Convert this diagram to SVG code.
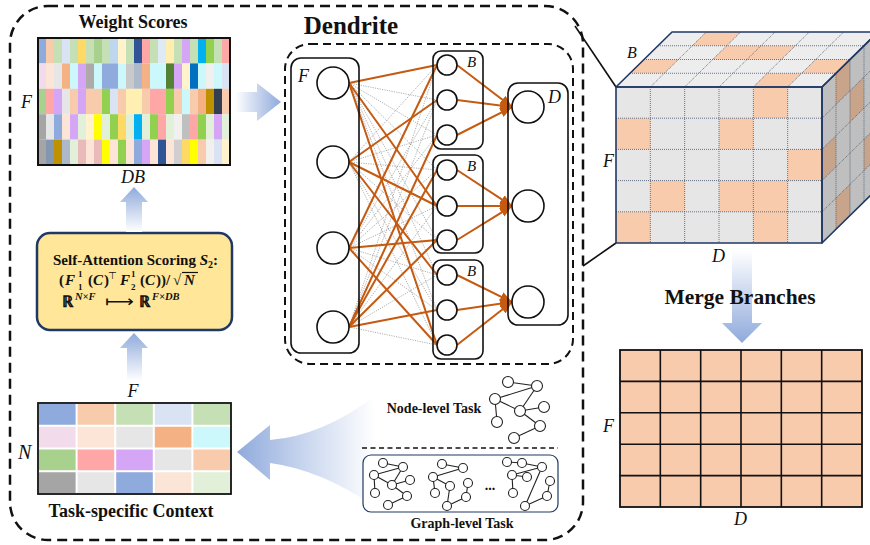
<svg xmlns="http://www.w3.org/2000/svg" width="870" height="545" viewBox="0 0 870 545">
<defs>
  <style>
    .t{font-family:"Liberation Serif","Times New Roman",serif;font-weight:bold;fill:#111}
    .v{font-family:"Liberation Serif","Times New Roman",serif;font-style:italic;fill:#111}
    .m{font-family:"Liberation Serif","DejaVu Serif",serif;font-weight:bold;fill:#111}
    .mi{font-style:italic}
    .gray{stroke:#8c8c8c;stroke-width:0.7;stroke-dasharray:1.2 1.2;fill:none}
    .or{stroke:#c55a11;stroke-width:2;fill:none}
    .ora{stroke:#c55a11;stroke-width:2;fill:none;marker-end:url(#ah)}
    .nd{fill:#fff;stroke:#111;stroke-width:1.6}
    .box{fill:none;stroke:#111;stroke-width:1.6}
    .gn{fill:#fff;stroke:#222;stroke-width:1.1}
    .ge{stroke:#222;stroke-width:1.1}
    .dot{stroke:#44546a;stroke-width:0.8;stroke-dasharray:1 1;fill:none}
  </style>
  <marker id="ah" viewBox="0 0 12 10" refX="12" refY="5" markerWidth="12" markerHeight="10" markerUnits="userSpaceOnUse" orient="auto">
    <path d="M0,0 L12,5 L0,10 Z" fill="#c55a11"/>
  </marker>
  <linearGradient id="gRight" x1="0" y1="0" x2="1" y2="0">
    <stop offset="0" stop-color="#fff"/><stop offset="1" stop-color="#8faadc"/>
  </linearGradient>
  <linearGradient id="gUp" x1="0" y1="1" x2="0" y2="0">
    <stop offset="0" stop-color="#fff"/><stop offset="1" stop-color="#8faadc"/>
  </linearGradient>
  <linearGradient id="gDown" x1="0" y1="0" x2="0" y2="1">
    <stop offset="0" stop-color="#fff"/><stop offset="1" stop-color="#8faadc"/>
  </linearGradient>
  <linearGradient id="gLeft" x1="1" y1="0" x2="0" y2="0">
    <stop offset="0" stop-color="#fff" stop-opacity="0.9"/><stop offset="1" stop-color="#8faadc"/>
  </linearGradient>
</defs>

<rect width="870" height="545" fill="#fff"/>

<!-- outer dashed frame -->
<rect x="10" y="6" width="573" height="534" rx="38" fill="none" stroke="#111" stroke-width="2.5" stroke-dasharray="10 6"/>

<!-- zoom lines from frame to cube -->
<g id="zoom-lines" stroke="#111" stroke-width="1.6">
  <line x1="575" y1="26" x2="616" y2="87"/>
  <line x1="616" y1="243" x2="583" y2="266"/>
</g>

<!-- Weight Scores heatmap -->
<g id="weight-scores">
  <text class="t" x="133" y="28" font-size="18" text-anchor="middle">Weight Scores</text>
  <g>
    <!-- row 1 -->
    <rect x="38" y="38" width="8.1" height="25.5" fill="#8faadc"/><rect x="46" y="38" width="8.1" height="25.5" fill="#f8cbad"/><rect x="54" y="38" width="8.1" height="25.5" fill="#c5e0b4"/><rect x="62" y="38" width="8.1" height="25.5" fill="#dae3f3"/><rect x="70" y="38" width="8.1" height="25.5" fill="#c5e0b4"/><rect x="78" y="38" width="8.1" height="25.5" fill="#ffd966"/><rect x="86" y="38" width="8.1" height="25.5" fill="#c5e0b4"/><rect x="94" y="38" width="8.1" height="25.5" fill="#a9d18e"/><rect x="102" y="38" width="8.1" height="25.5" fill="#c5e0b4"/><rect x="110" y="38" width="8.1" height="25.5" fill="#bdd7ee"/><rect x="118" y="38" width="8.1" height="25.5" fill="#fff2cc"/><rect x="126" y="38" width="8.1" height="25.5" fill="#c5e0b4"/><rect x="134" y="38" width="8.1" height="25.5" fill="#2f5597"/><rect x="142" y="38" width="8.1" height="25.5" fill="#ffa7a7"/><rect x="150" y="38" width="8.1" height="25.5" fill="#c5e0b4"/><rect x="158" y="38" width="8.1" height="25.5" fill="#deebf7"/><rect x="166" y="38" width="8.1" height="25.5" fill="#ffeeb0"/><rect x="174" y="38" width="8.1" height="25.5" fill="#c5e0b4"/><rect x="182" y="38" width="8.1" height="25.5" fill="#d5a6f5"/><rect x="190" y="38" width="8.1" height="25.5" fill="#c5e0b4"/><rect x="198" y="38" width="8.1" height="25.5" fill="#00b0f0"/><rect x="206" y="38" width="8.1" height="25.5" fill="#92d050"/><rect x="214" y="38" width="8.1" height="25.5" fill="#c5e0b4"/><rect x="222" y="38" width="8" height="25.5" fill="#ffa7a7"/>
    <!-- row 2 -->
    <rect x="38" y="63.4" width="8.1" height="25.5" fill="#f2dceb"/><rect x="46" y="63.4" width="8.1" height="25.5" fill="#fce4d6"/><rect x="54" y="63.4" width="8.1" height="25.5" fill="#e7e6e6"/><rect x="62" y="63.4" width="8.1" height="25.5" fill="#f4b183"/><rect x="70" y="63.4" width="8.1" height="25.5" fill="#ccf7fb"/><rect x="78" y="63.4" width="8.1" height="25.5" fill="#d5a6f5"/><rect x="86" y="63.4" width="8.1" height="25.5" fill="#aeaaaa"/><rect x="94" y="63.4" width="8.1" height="25.5" fill="#ccf7fb"/><rect x="102" y="63.4" width="16.1" height="25.5" fill="#8faadc"/><rect x="118" y="63.4" width="8.1" height="25.5" fill="#ccf7fb"/><rect x="126" y="63.4" width="8.1" height="25.5" fill="#c9c9c9"/><rect x="134" y="63.4" width="8.1" height="25.5" fill="#adb9ca"/><rect x="142" y="63.4" width="8.1" height="25.5" fill="#f4b183"/><rect x="150" y="63.4" width="16.1" height="25.5" fill="#ccf7fb"/><rect x="166" y="63.4" width="8.1" height="25.5" fill="#548235"/><rect x="174" y="63.4" width="8.1" height="25.5" fill="#d5a6f5"/><rect x="182" y="63.4" width="8.1" height="25.5" fill="#fff2cc"/><rect x="190" y="63.4" width="8.1" height="25.5" fill="#0070c0"/><rect x="198" y="63.4" width="8.1" height="25.5" fill="#ccf7fb"/><rect x="206" y="63.4" width="8.1" height="25.5" fill="#f2f0ee"/><rect x="214" y="63.4" width="8.1" height="25.5" fill="#ccf7fb"/><rect x="222" y="63.4" width="8" height="25.5" fill="#dae3f3"/>
    <!-- row 3 -->
    <rect x="38" y="88.8" width="8.1" height="25.5" fill="#a9d18e"/><rect x="46" y="88.8" width="8.1" height="25.5" fill="#ffa7a7"/><rect x="54" y="88.8" width="8.1" height="25.5" fill="#d5a6f5"/><rect x="62" y="88.8" width="8.1" height="25.5" fill="#e7e6e6"/><rect x="70" y="88.8" width="8.1" height="25.5" fill="#f8cbad"/><rect x="78" y="88.8" width="8.1" height="25.5" fill="#d5a6f5"/><rect x="86" y="88.8" width="16.1" height="25.5" fill="#f8cbad"/><rect x="102" y="88.8" width="8.1" height="25.5" fill="#92d050"/><rect x="110" y="88.8" width="8.1" height="25.5" fill="#dae3f3"/><rect x="118" y="88.8" width="8.1" height="25.5" fill="#f8cbad"/><rect x="126" y="88.8" width="16.1" height="25.5" fill="#ffefb0"/><rect x="142" y="88.8" width="8.1" height="25.5" fill="#f8cbad"/><rect x="150" y="88.8" width="16.1" height="25.5" fill="#ffa7a7"/><rect x="166" y="88.8" width="8.1" height="25.5" fill="#92d050"/><rect x="174" y="88.8" width="8.1" height="25.5" fill="#f8cbad"/><rect x="182" y="88.8" width="8.1" height="25.5" fill="#ccf7fb"/><rect x="190" y="88.8" width="8.1" height="25.5" fill="#f8cbad"/><rect x="198" y="88.8" width="8.1" height="25.5" fill="#f4b183"/><rect x="206" y="88.8" width="8.1" height="25.5" fill="#bf9000"/><rect x="214" y="88.8" width="8.1" height="25.5" fill="#333f50"/><rect x="222" y="88.8" width="8" height="25.5" fill="#f8cbad"/>
    <!-- row 4 -->
    <rect x="38" y="114.2" width="8.1" height="25.5" fill="#a5a5a5"/><rect x="46" y="114.2" width="8.1" height="25.5" fill="#e7e6e6"/><rect x="54" y="114.2" width="8.1" height="25.5" fill="#8faadc"/><rect x="62" y="114.2" width="8.1" height="25.5" fill="#fce4d6"/><rect x="70" y="114.2" width="8.1" height="25.5" fill="#d5a6f5"/><rect x="78" y="114.2" width="8.1" height="25.5" fill="#e2f0d9"/><rect x="86" y="114.2" width="8.1" height="25.5" fill="#fff2cc"/><rect x="94" y="114.2" width="8.1" height="25.5" fill="#ffff00"/><rect x="102" y="114.2" width="8.1" height="25.5" fill="#e2f0d9"/><rect x="110" y="114.2" width="8.1" height="25.5" fill="#92d050"/><rect x="118" y="114.2" width="8.1" height="25.5" fill="#ffd966"/><rect x="126" y="114.2" width="8.1" height="25.5" fill="#e2f0d9"/><rect x="134" y="114.2" width="8.1" height="25.5" fill="#00b0f0"/><rect x="142" y="114.2" width="8.1" height="25.5" fill="#e2f0d9"/><rect x="150" y="114.2" width="8.1" height="25.5" fill="#92d050"/><rect x="158" y="114.2" width="8.1" height="25.5" fill="#ffa7a7"/><rect x="166" y="114.2" width="8.1" height="25.5" fill="#e2f0d9"/><rect x="174" y="114.2" width="8.1" height="25.5" fill="#f2f0ee"/><rect x="182" y="114.2" width="8.1" height="25.5" fill="#bfbfbf"/><rect x="190" y="114.2" width="8.1" height="25.5" fill="#ffa7a7"/><rect x="198" y="114.2" width="8.1" height="25.5" fill="#92d050"/><rect x="206" y="114.2" width="8.1" height="25.5" fill="#e2f0d9"/><rect x="214" y="114.2" width="8.1" height="25.5" fill="#d5a6f5"/><rect x="222" y="114.2" width="8" height="25.5" fill="#e2f0d9"/>
    <!-- row 5 -->
    <rect x="38" y="139.6" width="8.1" height="25.4" fill="#a5a5a5"/><rect x="46" y="139.6" width="8.1" height="25.4" fill="#8497b0"/><rect x="54" y="139.6" width="8.1" height="25.4" fill="#bf9000"/><rect x="62" y="139.6" width="8.1" height="25.4" fill="#adb9ca"/><rect x="70" y="139.6" width="8.1" height="25.4" fill="#e2f0d9"/><rect x="78" y="139.6" width="8.1" height="25.4" fill="#eab9b9"/><rect x="86" y="139.6" width="8.1" height="25.4" fill="#fce4d6"/><rect x="94" y="139.6" width="8.1" height="25.4" fill="#eab9b9"/><rect x="102" y="139.6" width="8.1" height="25.4" fill="#ffff00"/><rect x="110" y="139.6" width="8.1" height="25.4" fill="#fce4d6"/><rect x="118" y="139.6" width="8.1" height="25.4" fill="#92d050"/><rect x="126" y="139.6" width="8.1" height="25.4" fill="#fce4d6"/><rect x="134" y="139.6" width="8.1" height="25.4" fill="#8faadc"/><rect x="142" y="139.6" width="8.1" height="25.4" fill="#d5a6f5"/><rect x="150" y="139.6" width="8.1" height="25.4" fill="#fce4d6"/><rect x="158" y="139.6" width="8.1" height="25.4" fill="#2f5597"/><rect x="166" y="139.6" width="8.1" height="25.4" fill="#fce4d6"/><rect x="174" y="139.6" width="8.1" height="25.4" fill="#d0cece"/><rect x="182" y="139.6" width="8.1" height="25.4" fill="#ffd966"/><rect x="190" y="139.6" width="8.1" height="25.4" fill="#ffff00"/><rect x="198" y="139.6" width="8.1" height="25.4" fill="#f8cbad"/><rect x="206" y="139.6" width="8.1" height="25.4" fill="#f2f0ee"/><rect x="214" y="139.6" width="8.1" height="25.4" fill="#dae3f3"/><rect x="222" y="139.6" width="8" height="25.4" fill="#fff2cc"/>
  </g>
  <rect x="38" y="38" width="192" height="127" fill="none" stroke="#111" stroke-width="2"/>
  <text class="v" x="21" y="108" font-size="18">F</text>
  <text class="v" x="133" y="183" font-size="18" text-anchor="middle">DB</text>
</g>

<!-- Self-attention scoring box -->
<g id="self-attention">
  <rect x="37" y="233" width="195" height="97" rx="13" fill="#ffe699" stroke="#1f3864" stroke-width="2.5"/>
  <text class="m" y="265" font-size="15"><tspan x="53">Self-Attention Scoring </tspan><tspan class="mi">S</tspan><tspan font-size="10" dy="3">2</tspan><tspan dy="-3">:</tspan></text>
  <text class="m" font-size="15">
    <tspan x="59" y="285">(</tspan><tspan class="mi" x="65" y="285">F</tspan>
    <tspan x="88" y="285">(</tspan><tspan class="mi" x="93" y="285">C</tspan><tspan x="104" y="285">)</tspan>
    <tspan class="mi" x="120" y="285">F</tspan>
    <tspan x="140" y="285">(</tspan><tspan class="mi" x="145" y="285">C</tspan><tspan x="156" y="285">))/</tspan>
    <tspan x="173" y="285">√</tspan><tspan class="mi" x="184" y="285">N</tspan>
  </text>
  <text class="m" font-size="9"><tspan x="78" y="277">1</tspan><tspan x="131" y="277">1</tspan></text>
  <text class="m" font-size="9"><tspan x="78" y="289.5">1</tspan><tspan x="131" y="289.5">2</tspan></text>
  <text x="108" y="279" font-size="10" font-family="DejaVu Sans, sans-serif" fill="#111">⊤</text>
  <line x1="182" y1="272.5" x2="198" y2="272.5" stroke="#111" stroke-width="1.2"/>
  <text class="m" font-size="16">
    <tspan x="62" y="307">ℝ</tspan>
    <tspan class="mi" font-size="10.5" x="75" y="300">N×F</tspan>
    <tspan x="139" y="307">ℝ</tspan>
    <tspan class="mi" font-size="10.5" x="152" y="300">F×DB</tspan>
  </text>
  <text x="105" y="307" font-size="16" font-family="DejaVu Sans, sans-serif" fill="#111" textLength="29" lengthAdjust="spacingAndGlyphs">⟼</text>
</g>

<!-- Task-specific context -->
<g id="task-context">
  <text class="v" x="133" y="397" font-size="18" text-anchor="middle">F</text>
  <text class="v" x="18" y="459" font-size="20">N</text>
  <rect x="38" y="403" width="193" height="91" fill="#fff"/>
  <g>
    <rect x="39" y="404" width="36.6" height="20.75" fill="#8faadc"/><rect x="77.6" y="404" width="36.6" height="20.75" fill="#f8cbad"/><rect x="116.2" y="404" width="36.6" height="20.75" fill="#c5e0b4"/><rect x="154.8" y="404" width="36.6" height="20.75" fill="#dae3f3"/><rect x="193.4" y="404" width="36.6" height="20.75" fill="#c5e0b4"/>
    <rect x="39" y="426.75" width="36.6" height="20.75" fill="#f2dceb"/><rect x="77.6" y="426.75" width="36.6" height="20.75" fill="#fce4d6"/><rect x="116.2" y="426.75" width="36.6" height="20.75" fill="#e7e6e6"/><rect x="154.8" y="426.75" width="36.6" height="20.75" fill="#f4b183"/><rect x="193.4" y="426.75" width="36.6" height="20.75" fill="#ccf7fb"/>
    <rect x="39" y="449.5" width="36.6" height="20.75" fill="#a9d18e"/><rect x="77.6" y="449.5" width="36.6" height="20.75" fill="#ffa7a7"/><rect x="116.2" y="449.5" width="36.6" height="20.75" fill="#d5a6f5"/><rect x="154.8" y="449.5" width="36.6" height="20.75" fill="#e7e6e6"/><rect x="193.4" y="449.5" width="36.6" height="20.75" fill="#f8cbad"/>
    <rect x="39" y="472.25" width="36.6" height="20.75" fill="#a5a5a5"/><rect x="77.6" y="472.25" width="36.6" height="20.75" fill="#e7e6e6"/><rect x="116.2" y="472.25" width="36.6" height="20.75" fill="#8faadc"/><rect x="154.8" y="472.25" width="36.6" height="20.75" fill="#fbe5d6"/><rect x="193.4" y="472.25" width="36.6" height="20.75" fill="#e2f0d9"/>
  </g>
  <rect x="38" y="403" width="193" height="91" fill="none" stroke="#111" stroke-width="1.8"/>
  <text class="t" x="131" y="517" font-size="18" text-anchor="middle">Task-specific Context</text>
</g>

<!-- flow arrows -->
<g id="flow-arrows">
  <path d="M126,232 L142,232 L142,202 L148,202 L134,187 L120,202 L126,202 Z" fill="url(#gUp)"/>
  <path d="M127,381 L142,381 L142,348 L148,348 L134,333 L120,348 L127,348 Z" fill="url(#gUp)"/>
  <path d="M235,92 L257,92 L257,83 L281,102 L257,121 L257,112 L235,112 Z" fill="url(#gRight)"/>
  <path d="M237,452 L270,425 L270,440 Q322,436 375,396 L375,507 Q322,470 270,463 L270,480 Z" fill="url(#gLeft)"/>
  <path d="M732,250 L752,250 L752,323 L762,323 L742,343 L722,323 L732,323 Z" fill="url(#gDown)"/>
</g>

<!-- Dendrite block -->
<g id="dendrite">
  <text class="t" x="351" y="34" font-size="25" text-anchor="middle">Dendrite</text>
  <rect x="285" y="44" width="288" height="320" rx="25" fill="none" stroke="#111" stroke-width="2" stroke-dasharray="8 5"/>
</g>

<g id="connectors">
  <!-- dense feature-to-branch links -->
  <g class="gray">
    <path d="M349,83 L437,65 M349,83 L437,100 M349,83 L437,135 M349,83 L437,170 M349,83 L437,206 M349,83 L437,240 M349,83 L437,275 M349,83 L437,310 M349,83 L437,345"/>
    <path d="M349,162 L437,65 M349,162 L437,100 M349,162 L437,135 M349,162 L437,170 M349,162 L437,206 M349,162 L437,240 M349,162 L437,275 M349,162 L437,310 M349,162 L437,345"/>
    <path d="M349,248 L437,65 M349,248 L437,100 M349,248 L437,135 M349,248 L437,170 M349,248 L437,206 M349,248 L437,240 M349,248 L437,275 M349,248 L437,310 M349,248 L437,345"/>
    <path d="M349,327 L437,65 M349,327 L437,100 M349,327 L437,135 M349,327 L437,170 M349,327 L437,206 M349,327 L437,240 M349,327 L437,275 M349,327 L437,310 M349,327 L437,345"/>
  </g>
  <!-- selected links -->
  <g class="or">
    <line x1="349" y1="83" x2="437" y2="65"/>
    <line x1="349" y1="83" x2="437" y2="206"/>
    <line x1="349" y1="83" x2="437" y2="345"/>
    <line x1="349" y1="162" x2="437" y2="100"/>
    <line x1="349" y1="162" x2="437" y2="206"/>
    <line x1="349" y1="162" x2="437" y2="275"/>
    <line x1="349" y1="248" x2="437" y2="65"/>
    <line x1="349" y1="248" x2="437" y2="240"/>
    <line x1="349" y1="248" x2="437" y2="345"/>
    <line x1="349" y1="327" x2="437" y2="135"/>
    <line x1="349" y1="327" x2="437" y2="170"/>
    <line x1="349" y1="327" x2="437" y2="240"/>
    <line x1="349" y1="327" x2="437" y2="310"/>
  </g>
  <!-- branch-to-dendrite arrows -->
  <g class="ora">
    <line x1="457" y1="65" x2="512" y2="107"/>
    <line x1="457" y1="100" x2="512" y2="107"/>
    <line x1="457" y1="135" x2="512" y2="107"/>
    <line x1="457" y1="170" x2="512" y2="206"/>
    <line x1="457" y1="206" x2="512" y2="206"/>
    <line x1="457" y1="240" x2="512" y2="206"/>
    <line x1="457" y1="275" x2="512" y2="302"/>
    <line x1="457" y1="310" x2="512" y2="302"/>
    <line x1="457" y1="345" x2="512" y2="302"/>
  </g>
</g>

<g id="feature-layer">
  <rect class="box" x="291" y="58" width="68" height="295" rx="10"/>
  <text class="v" x="298" y="82" font-size="18">F</text>
  <circle class="nd" cx="333" cy="83" r="16"/>
  <circle class="nd" cx="333" cy="162" r="16"/>
  <circle class="nd" cx="333" cy="248" r="16"/>
  <circle class="nd" cx="333" cy="327" r="16"/>
</g>

<g id="branch-1">
  <rect class="box" x="433" y="51" width="50" height="98" rx="8"/>
  <text class="v" x="467" y="67" font-size="15">B</text>
  <circle class="nd" cx="447" cy="65" r="10"/>
  <circle class="nd" cx="447" cy="100" r="10"/>
  <circle class="nd" cx="447" cy="135" r="10"/>
</g>
<g id="branch-2">
  <rect class="box" x="433" y="155" width="50" height="98" rx="8"/>
  <text class="v" x="467" y="171" font-size="15">B</text>
  <circle class="nd" cx="447" cy="170" r="10"/>
  <circle class="nd" cx="447" cy="206" r="10"/>
  <circle class="nd" cx="447" cy="240" r="10"/>
</g>
<g id="branch-3">
  <rect class="box" x="433" y="260" width="50" height="99" rx="8"/>
  <text class="v" x="467" y="276" font-size="15">B</text>
  <circle class="nd" cx="447" cy="275" r="10"/>
  <circle class="nd" cx="447" cy="310" r="10"/>
  <circle class="nd" cx="447" cy="345" r="10"/>
</g>
<g id="dendrite-layer">
  <rect class="box" x="508" y="83" width="60" height="242" rx="10"/>
  <text class="v" x="548" y="103" font-size="18">D</text>
  <circle class="nd" cx="528" cy="107" r="16"/>
  <circle class="nd" cx="528" cy="206" r="16"/>
  <circle class="nd" cx="528" cy="302" r="16"/>
</g>

<!-- Node-level task graph -->
<g id="node-level-task">
  <text class="t" x="434" y="413" font-size="14" text-anchor="middle">Node-level Task</text>
  <g class="ge">
    <line x1="508" y1="382" x2="537" y2="386"/><line x1="495" y1="399" x2="537" y2="386"/><line x1="537" y1="386" x2="520" y2="411"/><line x1="495" y1="399" x2="520" y2="411"/><line x1="520" y1="411" x2="544" y2="407"/><line x1="495" y1="399" x2="497" y2="422"/><line x1="520" y1="411" x2="540" y2="426"/><line x1="540" y1="426" x2="514" y2="438"/>
  </g>
  <circle class="gn" cx="508" cy="382" r="5.5"/><circle class="gn" cx="537" cy="386" r="5.5"/><circle class="gn" cx="495" cy="399" r="5.5"/><circle class="gn" cx="520" cy="411" r="5.5"/><circle class="gn" cx="544" cy="407" r="5.5"/><circle class="gn" cx="497" cy="422" r="5.5"/><circle class="gn" cx="540" cy="426" r="5.5"/><circle class="gn" cx="514" cy="438" r="5.5"/>
  <line x1="362" y1="448" x2="558" y2="448" stroke="#111" stroke-width="1.5" stroke-dasharray="5 3.5"/>
</g>

<!-- Graph-level task graphs -->
<g id="graph-level-task">
  <rect x="363" y="455" width="195" height="57" rx="8" fill="#fff" stroke="#1f3864" stroke-width="1.2"/>
  <g class="ge">
    <line x1="383" y1="463" x2="403" y2="467"/><line x1="374" y1="475" x2="403" y2="467"/><line x1="374" y1="475" x2="392" y2="485"/><line x1="403" y1="467" x2="392" y2="485"/><line x1="392" y1="485" x2="410" y2="480"/><line x1="374" y1="475" x2="375" y2="493"/><line x1="392" y1="485" x2="407" y2="496"/><line x1="407" y1="496" x2="388" y2="505"/>
    <line x1="442" y1="464" x2="463" y2="468"/><line x1="433" y1="477" x2="463" y2="468"/><line x1="433" y1="477" x2="450" y2="486"/><line x1="450" y1="486" x2="447" y2="506"/><line x1="433" y1="477" x2="435" y2="493"/><line x1="468" y1="483" x2="466" y2="497"/><line x1="466" y1="497" x2="447" y2="506"/>
    <line x1="507" y1="462" x2="522" y2="463"/><line x1="522" y1="463" x2="542" y2="467"/><line x1="512" y1="475" x2="542" y2="467"/><line x1="512" y1="475" x2="527" y2="477"/><line x1="512" y1="475" x2="513" y2="493"/><line x1="542" y1="467" x2="525" y2="506"/><line x1="550" y1="481" x2="547" y2="496"/><line x1="547" y1="496" x2="525" y2="506"/>
  </g>
  <g>
    <circle class="gn" cx="383" cy="463" r="4.5"/><circle class="gn" cx="403" cy="467" r="4.5"/><circle class="gn" cx="374" cy="475" r="4.5"/><circle class="gn" cx="392" cy="485" r="4.5"/><circle class="gn" cx="410" cy="480" r="4.5"/><circle class="gn" cx="375" cy="493" r="4.5"/><circle class="gn" cx="407" cy="496" r="4.5"/><circle class="gn" cx="388" cy="505" r="4.5"/>
    <circle class="gn" cx="442" cy="464" r="4.5"/><circle class="gn" cx="463" cy="468" r="4.5"/><circle class="gn" cx="433" cy="477" r="4.5"/><circle class="gn" cx="450" cy="486" r="4.5"/><circle class="gn" cx="468" cy="483" r="4.5"/><circle class="gn" cx="435" cy="493" r="4.5"/><circle class="gn" cx="466" cy="497" r="4.5"/><circle class="gn" cx="447" cy="506" r="4.5"/>
    <circle class="gn" cx="507" cy="462" r="4.5"/><circle class="gn" cx="522" cy="463" r="4.5"/><circle class="gn" cx="542" cy="467" r="4.5"/><circle class="gn" cx="512" cy="475" r="4.5"/><circle class="gn" cx="527" cy="477" r="4.5"/><circle class="gn" cx="550" cy="481" r="4.5"/><circle class="gn" cx="513" cy="493" r="4.5"/><circle class="gn" cx="547" cy="496" r="4.5"/><circle class="gn" cx="525" cy="506" r="4.5"/>
  </g>
  <text class="t" x="490" y="490" font-size="14" text-anchor="middle">...</text>
  <text class="t" x="462" y="528" font-size="14" text-anchor="middle">Graph-level Task</text>
</g>

<!-- Branch tensor cube -->
<g id="tensor-cube">
  <rect x="616" y="87" width="206" height="156" fill="#e7e6e6"/>
  <g fill="#f8cbad">
    <rect x="753.33" y="87" width="34.34" height="31.2"/>
    <rect x="616" y="118.2" width="34.34" height="31.2"/>
    <rect x="719" y="118.2" width="34.34" height="31.2"/>
    <rect x="787.67" y="149.4" width="34.33" height="31.2"/>
    <rect x="650.33" y="180.6" width="34.34" height="31.2"/>
    <rect x="719" y="180.6" width="68.67" height="31.2"/>
    <rect x="616" y="211.8" width="34.34" height="31.2"/>
    <rect x="753.33" y="211.8" width="34.34" height="31.2"/>
  </g>
  <polygon points="616,87 822,87 878,32 672,32" fill="#ededed"/>
  <g fill="#f8cbad">
    <polygon points="753.33,87 787.67,87 801.67,73.25 767.33,73.25"/>
    <polygon points="630,73.25 664.33,73.25 678.33,59.5 644,59.5"/>
    <polygon points="801.67,73.25 836,73.25 850,59.5 815.67,59.5"/>
    <polygon points="712.67,59.5 781.33,59.5 795.33,45.75 726.67,45.75"/>
    <polygon points="692.33,45.75 726.67,45.75 740.67,32 706.33,32"/>
  </g>
  <polygon points="822,87 878,32 878,188 822,243" fill="#bfbfbf"/>
  <g fill="#c8a48b">
    <polygon points="836,73.25 850,59.5 850,90.7 836,104.45"/>
    <polygon points="850,90.7 864,76.95 864,108.15 850,121.9"/>
    <polygon points="822,149.4 836,135.65 836,166.85 822,180.6"/>
    <polygon points="864,139.35 878,125.6 878,156.8 864,170.55"/>
    <polygon points="836,198.05 850,184.3 850,215.5 836,229.25"/>
  </g>
  <path class="dot" d="M650.33,87V243 M684.67,87V243 M719,87V243 M753.33,87V243 M787.67,87V243 M616,118.2H822 M616,149.4H822 M616,180.6H822 M616,211.8H822"/>
  <path class="dot" d="M650.33,87L706.33,32 M684.67,87L740.67,32 M719,87L775,32 M753.33,87L809.33,32 M787.67,87L843.67,32 M630,73.25H836 M644,59.5H850 M658,45.75H864"/>
  <path class="dot" d="M836,73.25V229.25 M850,59.5V215.5 M864,45.75V201.75 M822,118.2L878,63.2 M822,149.4L878,94.4 M822,180.6L878,125.6 M822,211.8L878,156.8"/>
  <g fill="none" stroke="#1f3864" stroke-width="1.6" stroke-linejoin="round">
    <polygon points="616,87 822,87 878,32 672,32"/>
    <rect x="616" y="87" width="206" height="156"/>
    <polygon points="822,87 878,32 878,188 822,243"/>
  </g>
  <text class="v" x="627" y="58" font-size="16">B</text>
  <text class="v" x="603" y="167" font-size="18">F</text>
  <text class="v" x="712" y="262" font-size="18">D</text>
</g>

<!-- Merged output grid -->
<g id="merged-grid">
  <text class="t" x="740" y="304" font-size="21.5" text-anchor="middle">Merge Branches</text>
  <rect x="620" y="350" width="242" height="157" fill="#f8cbad"/>
  <path d="M660.33,350V507 M700.67,350V507 M741,350V507 M781.33,350V507 M821.67,350V507 M620,381.4H862 M620,412.8H862 M620,444.2H862 M620,475.6H862" stroke="#111" stroke-width="1.6" fill="none"/>
  <rect x="620" y="350" width="242" height="157" fill="none" stroke="#111" stroke-width="1.8"/>
  <text class="v" x="603" y="432" font-size="18">F</text>
  <text class="v" x="734" y="525" font-size="18">D</text>
</g>
</svg>
